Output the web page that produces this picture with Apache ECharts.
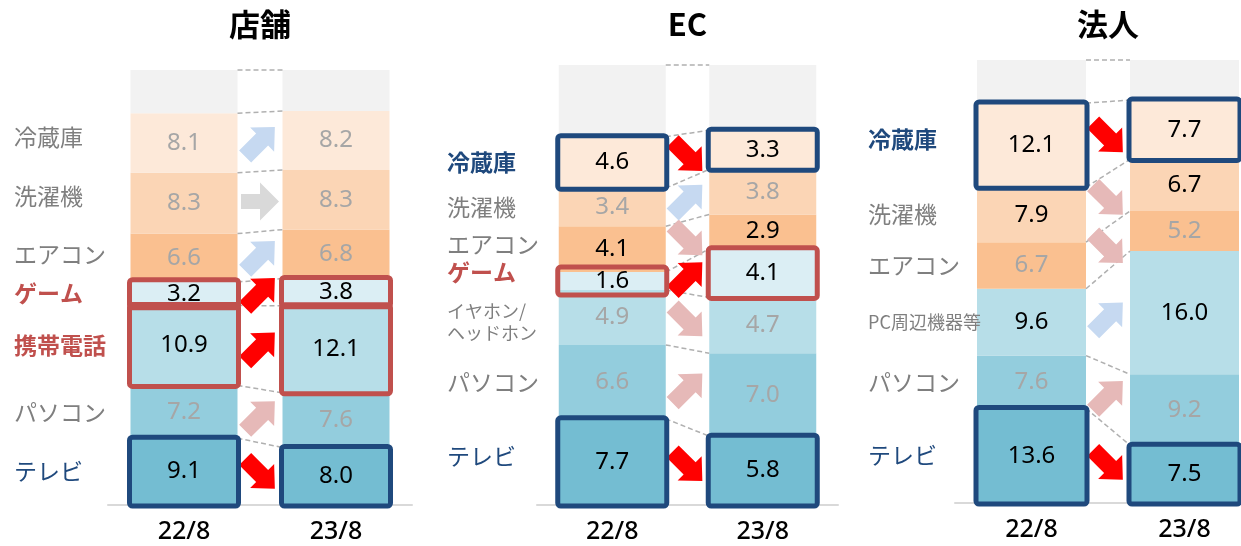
<!DOCTYPE html>
<html><head><meta charset="utf-8">
<script src="https://cdn.jsdelivr.net/npm/echarts@6/dist/echarts.min.js"></script>
<style>html,body{margin:0;padding:0;background:#fff}#c{width:1241px;height:546px}</style>
</head><body><div id="c"></div>
<script>
// ---------- data ----------
const categories = ['22/8', '23/8'];
const panelTitles = ['店舗', 'EC', '法人'];

// items listed bottom -> top
const storeItems = ['テレビ', 'パソコン', '携帯電話', 'ゲーム', 'エアコン', '洗濯機', '冷蔵庫'];
const store2208 = [9.1, 7.2, 10.9, 3.2, 6.6, 8.3, 8.1];
const store2308 = [8.0, 7.6, 12.1, 3.8, 6.8, 8.3, 8.2];
const storeOther = [5.9, 5.7];

const ecItems = ['テレビ', 'パソコン', 'イヤホン/\nヘッドホン', 'ゲーム', 'エアコン', '洗濯機', '冷蔵庫'];
const ec2208 = [7.7, 6.6, 4.9, 1.6, 4.1, 3.4, 4.6];
const ec2308 = [5.8, 7.0, 4.7, 4.1, 2.9, 3.8, 3.3];
const ecOther = [6.4, 5.5];

const corpItems = ['テレビ', 'パソコン', 'PC周辺機器等', 'エアコン', '洗濯機', '冷蔵庫'];
const corp2208 = [13.6, 7.6, 9.6, 6.7, 7.9, 12.1];
const corp2308 = [7.5, 9.2, 16.0, 5.2, 6.7, 7.7];
const corpOther = [6.2, 5.2];

const panels = [
  { title: panelTitles[0], items: storeItems, values: [store2208, store2308], other: storeOther },
  { title: panelTitles[1], items: ecItems, values: [ec2208, ec2308], other: ecOther },
  { title: panelTitles[2], items: corpItems, values: [corp2208, corp2308], other: corpOther }
];

// ---------- styles ----------
const BLUE = '#1F497D', RED = '#C0504D', GRAYTXT = '#7F7F7F';
const A_RED = '#FF0000', A_PINK = '#E6B9B8', A_BLUE = '#C6D9F1', A_GRAY = '#D9D9D9';
const itemColors = {
  'テレビ': '#74BDD2', 'パソコン': '#93CDDD', '携帯電話': '#B7DEE8',
  'イヤホン/\nヘッドホン': '#B7DEE8', 'PC周辺機器等': '#B7DEE8', 'ゲーム': '#DBEEF4',
  'エアコン': '#FAC090', '洗濯機': '#FBD5B5', '冷蔵庫': '#FDE9D9'
};
const otherColor = '#F2F2F2';
const panelStyles = [
  { boxes: { 'テレビ': BLUE, '携帯電話': RED, 'ゲーム': RED },
    darkValues: ['テレビ', '携帯電話', 'ゲーム'],
    arrows: { 'テレビ': A_RED, 'パソコン': A_PINK, '携帯電話': A_RED, 'ゲーム': A_RED, 'エアコン': A_BLUE, '洗濯機': A_GRAY, '冷蔵庫': A_BLUE },
    labelColors: { 'テレビ': BLUE, '携帯電話': RED, 'ゲーム': RED },
    bold: ['携帯電話', 'ゲーム'], small: [], labelShift: { '冷蔵庫': -6, '洗濯機': -7, 'エアコン': -4 } },
  { boxes: { 'テレビ': BLUE, 'ゲーム': RED, '冷蔵庫': BLUE },
    darkValues: ['テレビ', 'ゲーム', 'エアコン', '冷蔵庫'],
    arrows: { 'テレビ': A_RED, 'パソコン': A_PINK, 'イヤホン/\nヘッドホン': A_PINK, 'ゲーム': A_RED, 'エアコン': A_PINK, '洗濯機': A_BLUE, '冷蔵庫': A_RED },
    labelColors: { 'テレビ': BLUE, 'ゲーム': RED, '冷蔵庫': BLUE },
    bold: ['ゲーム', '冷蔵庫'], small: ['イヤホン/\nヘッドホン'], labelShift: { 'ゲーム': -9, 'エアコン': -5, 'イヤホン/\nヘッドホン': 5, 'テレビ': -6 } },
  { boxes: { 'テレビ': BLUE, '冷蔵庫': BLUE },
    darkValues: ['テレビ', 'PC周辺機器等', '洗濯機', '冷蔵庫'],
    arrows: { 'テレビ': A_RED, 'パソコン': A_PINK, 'PC周辺機器等': A_BLUE, 'エアコン': A_PINK, '洗濯機': A_PINK, '冷蔵庫': A_RED },
    labelColors: { 'テレビ': BLUE, '冷蔵庫': BLUE },
    bold: ['冷蔵庫'], small: ['PC周辺機器等'], labelShift: { '冷蔵庫': -6 } }
];
const layout = [
  { left: 108, width: 304, top: 70, bottom: 505, barWidth: 107, labelX: 14 },
  { left: 537, width: 301, top: 65, bottom: 505, barWidth: 107, labelX: 447 },
  { left: 955, width: 306, top: 60, bottom: 503, barWidth: 109, labelX: 868 }
];
const NUMFONT = "'Noto Sans', 'Noto Sans CJK JP', sans-serif";
const JPFONT = "'Noto Sans CJK JP', sans-serif";

// ---------- option ----------
const chart = echarts.init(document.getElementById('c'), null, { renderer: 'canvas' });
const grid = [], xAxis = [], yAxis = [], series = [];
panels.forEach((p, pi) => {
  const L = layout[pi];
  grid.push({ left: L.left, top: L.top, width: L.width, height: L.bottom - L.top, outerBoundsMode: 'none', containLabel: false });
  xAxis.push({
    gridIndex: pi, type: 'category', data: categories,
    axisLine: { lineStyle: { color: '#D9D9D9', width: 2 } },
    axisTick: { show: false },
    axisLabel: { color: '#000', fontSize: 25, fontWeight: 500, fontFamily: NUMFONT, margin: 14 }
  });
  [0, 1].forEach(b => {
    const vals = p.values[b];
    const total = vals.reduce((a, c) => a + c, 0) + p.other[b];
    yAxis.push({ gridIndex: pi, type: 'value', min: 0, max: total, show: false });
    const st = panelStyles[pi];
    vals.forEach((v, i) => {
      const name = p.items[i];
      series.push({
        type: 'bar', name: name, xAxisIndex: pi, yAxisIndex: pi * 2 + b,
        stack: 's' + pi + '_' + b, barWidth: L.barWidth, barGap: '-100%',
        data: b === 0 ? [v, '-'] : ['-', v],
        itemStyle: { color: itemColors[name] },
        label: {
          show: true, position: 'inside',
          formatter: d => Number(d.value).toFixed(1),
          color: st.darkValues.includes(name) ? '#000' : '#A6A6A6',
          fontSize: 24, fontFamily: NUMFONT
        },
        silent: true
      });
    });
    series.push({
      type: 'bar', name: 'その他', xAxisIndex: pi, yAxisIndex: pi * 2 + b,
      stack: 's' + pi + '_' + b, barWidth: L.barWidth, barGap: '-100%',
      data: b === 0 ? [p.other[b], '-'] : ['-', p.other[b]],
      itemStyle: { color: otherColor }, silent: true
    });
  });
});

chart.setOption({ animation: false, grid, xAxis, yAxis, series });

// ---------- overlays computed from the chart's own scales ----------
function arrowPoints(cx, cy, dir) {
  let L, s, h, hl, d;
  if (dir === 0) { L = 38; s = 7.5; h = 19; hl = 19; d = [1, 0]; }
  else { L = 42; s = 8.5; h = 17; hl = 18; const k = Math.SQRT1_2; d = dir > 0 ? [k, -k] : [k, k]; }
  const n = [-d[1], d[0]];
  const local = [[-L / 2, -s], [L / 2 - hl, -s], [L / 2 - hl, -h], [L / 2, 0], [L / 2 - hl, h], [L / 2 - hl, s], [-L / 2, s]];
  return local.map(([u, v]) => [cx + u * d[0] + v * n[0], cy + u * d[1] + v * n[1]]);
}

const elements = [];
panels.forEach((p, pi) => {
  const L = layout[pi], st = panelStyles[pi];
  const px = (b, val) => chart.convertToPixel({ xAxisIndex: pi, yAxisIndex: pi * 2 + b }, [b, val]);
  const cx = [px(0, 0)[0], px(1, 0)[0]];
  const hw = L.barWidth / 2;
  const x1r = cx[0] + hw, x2l = cx[1] - hw;
  const cum = [0, 1].map(b => {
    let s = 0; const arr = [0];
    p.values[b].forEach(v => { s += v; arr.push(s); });
    arr.push(s + p.other[b]);
    return arr;
  });
  // dashed connectors
  for (let k = 1; k < cum[0].length; k++) {
    elements.push({
      type: 'line', z: 50,
      shape: { x1: x1r, y1: px(0, cum[0][k])[1], x2: x2l, y2: px(1, cum[1][k])[1] },
      style: { stroke: '#B0B0B0', lineWidth: 1.5, lineDash: [5, 3] }
    });
  }
  p.items.forEach((name, i) => {
    const seg = [0, 1].map(b => {
      const top = px(b, cum[b][i + 1])[1], bot = px(b, cum[b][i])[1];
      return { top, bot, mid: (top + bot) / 2 };
    });
    // highlight boxes
    if (st.boxes[name]) {
      [0, 1].forEach(b => {
        let top = seg[b].top - 1, h = seg[b].bot - seg[b].top + 2;
        if (h < 28) { top = seg[b].mid - 14; h = 28; }
        elements.push({
          type: 'rect', z: 60,
          shape: { x: cx[b] - hw - 1, y: top, width: L.barWidth + 2, height: h, r: 3 },
          style: { fill: null, stroke: st.boxes[name], lineWidth: 5 }
        });
      });
    }
    // change arrows
    const v1 = p.values[0][i], v2 = p.values[1][i];
    const dir = v2 > v1 ? 1 : (v2 < v1 ? -1 : 0);
    elements.push({
      type: 'polygon', z: 55,
      shape: { points: arrowPoints((x1r + x2l) / 2, (seg[0].mid + seg[1].mid) / 2, dir) },
      style: { fill: st.arrows[name] }
    });
    // item label on the left
    const small = st.small.includes(name);
    elements.push({
      type: 'text', z: 60, x: L.labelX, y: seg[0].mid + (st.labelShift[name] || 0),
      style: {
        text: name, fill: st.labelColors[name] || GRAYTXT,
        fontSize: small ? 18 : 23, fontFamily: JPFONT,
        fontWeight: st.bold.includes(name) ? 'bold' : 'normal',
        lineHeight: small ? 22 : 27,
        align: 'left', verticalAlign: 'middle', textAlign: 'left', textVerticalAlign: 'middle'
      }
    });
  });
  // panel title
  elements.push({
    type: 'text', z: 60, x: (cx[0] + cx[1]) / 2, y: 24,
    style: {
      text: p.title, fill: '#000', fontSize: 31, fontWeight: 'bold', fontFamily: JPFONT,
      align: 'center', verticalAlign: 'middle', textAlign: 'center', textVerticalAlign: 'middle'
    }
  });
});

chart.setOption({ graphic: { elements } });
</script>
</body></html>
